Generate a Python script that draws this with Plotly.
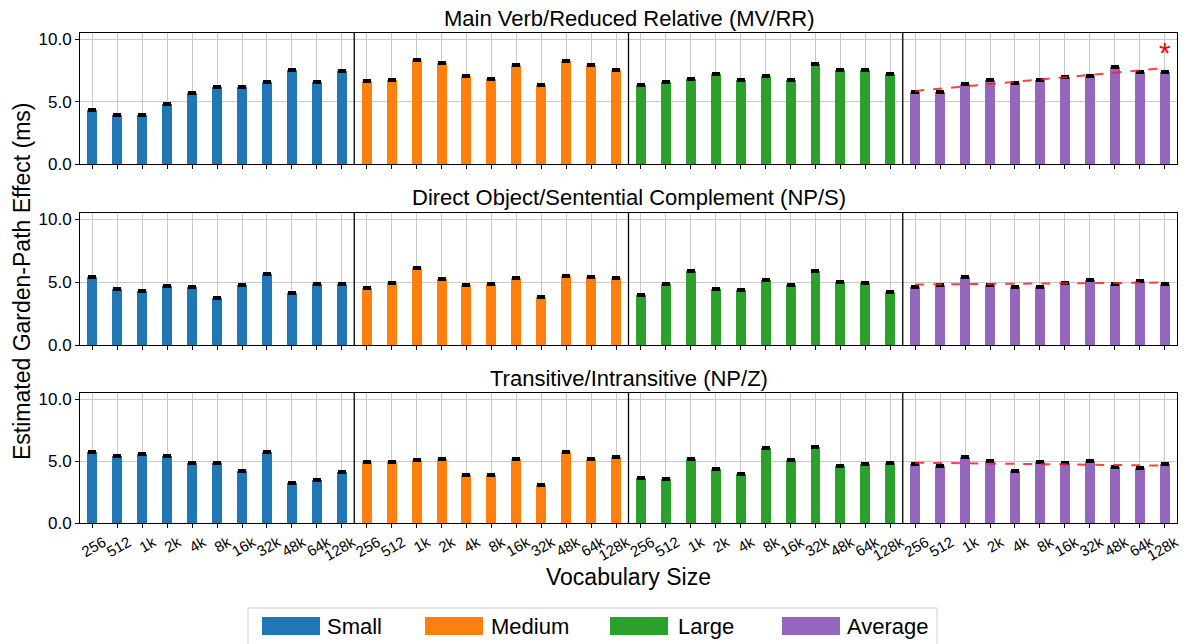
import plotly.graph_objects as go
import numpy as np

vocab = ["256", "512", "1k", "2k", "4k", "8k", "16k", "32k", "48k", "64k", "128k"]
groups = ["Small", "Medium", "Large", "Average"]
colors = ["#1f77b4", "#ff7f0e", "#2ca02c", "#9467bd"]
panel_titles = ["Main Verb/Reduced Relative (MV/RR)",
                "Direct Object/Sentential Complement (NP/S)",
                "Transitive/Intransitive (NP/Z)"]

# MV/RR
mvrr_small = [4.29, 3.89, 3.92, 4.80, 5.68, 6.21, 6.16, 6.56, 7.52, 6.61, 7.44]
mvrr_medium = [6.67, 6.75, 8.37, 8.11, 7.04, 6.85, 7.97, 6.35, 8.29, 7.92, 7.57]
mvrr_large = [6.32, 6.59, 6.85, 7.25, 6.72, 7.04, 6.72, 8.05, 7.52, 7.52, 7.20]
mvrr_average = [5.76, 5.76, 6.40, 6.72, 6.48, 6.75, 6.99, 7.04, 7.79, 7.39, 7.41]
# NP/S
nps_small = [5.38, 4.44, 4.27, 4.68, 4.60, 3.76, 4.78, 5.62, 4.17, 4.87, 4.87]
nps_medium = [4.52, 4.97, 6.10, 5.22, 4.78, 4.87, 5.35, 3.84, 5.46, 5.43, 5.35]
nps_large = [3.98, 4.87, 5.89, 4.49, 4.38, 5.16, 4.81, 5.91, 5.03, 4.92, 4.25]
nps_average = [4.65, 4.76, 5.43, 4.81, 4.60, 4.60, 4.97, 5.16, 4.89, 5.08, 4.84]
# NP/Z
npz_small = [5.70, 5.40, 5.54, 5.43, 4.81, 4.81, 4.19, 5.70, 3.20, 3.47, 4.09]
npz_medium = [4.95, 4.95, 5.05, 5.19, 3.87, 3.90, 5.19, 3.09, 5.75, 5.19, 5.30]
npz_large = [3.66, 3.52, 5.19, 4.33, 3.95, 6.02, 5.11, 6.16, 4.62, 4.73, 4.87]
npz_average = [4.78, 4.62, 5.30, 4.97, 4.22, 4.89, 4.81, 4.97, 4.54, 4.46, 4.73]

errors = [0.06] * 11
significant = [True, False, False]

panels = [
    [mvrr_small, mvrr_medium, mvrr_large, mvrr_average],
    [nps_small, nps_medium, nps_large, nps_average],
    [npz_small, npz_medium, npz_large, npz_average],
]

W, H = 1190, 644
FONT = "Liberation Sans, Arial, Helvetica, sans-serif"


def px_x(x):
    return x / W


def px_y(y):
    return 1 - y / H


x_dom = [px_x(80), px_x(1177)]
y_doms = [[px_y(164), px_y(33)], [px_y(345), px_y(213)], [px_y(523), px_y(393)]]
title_centers = [19, 198, 378]

n = len(vocab)
positions = list(range(4 * n))
ticktext = vocab * 4

fig = go.Figure()
shapes = []
annotations = []

for p, series in enumerate(panels):
    xa = "x" if p == 0 else f"x{p+1}"
    ya = "y" if p == 0 else f"y{p+1}"
    for g, vals in enumerate(series):
        xs = positions[g * n:(g + 1) * n]
        fig.add_trace(go.Bar(
            x=xs, y=vals, width=0.4, marker=dict(color=colors[g], line=dict(width=0)),
            error_y=dict(type="data", array=errors, color="black", thickness=2.5, width=4),
            xaxis=xa, yaxis=ya, showlegend=False, name=groups[g]))
    # trend line over average group
    avg = np.array(series[3])
    xs_avg = np.array(positions[3 * n:4 * n])
    slope, intercept = np.polyfit(xs_avg, avg, 1)
    fig.add_trace(go.Scatter(
        x=[xs_avg[0], xs_avg[-1]],
        y=[slope * xs_avg[0] + intercept, slope * xs_avg[-1] + intercept],
        mode="lines", line=dict(color="rgba(255,30,30,0.85)", width=2, dash="dash"),
        xaxis=xa, yaxis=ya, showlegend=False, hoverinfo="skip"))
    if significant[p]:
        annotations.append(dict(x=xs_avg[-1], y=8.9, xref=xa, yref=ya, text="*",
                                showarrow=False, font=dict(size=30, color="red", family=FONT),
                                xanchor="center", yanchor="middle"))
    # group separators
    for sep in [n - 0.5, 2 * n - 0.5, 3 * n - 0.5]:
        shapes.append(dict(type="line", xref=xa, yref=f"{ya} domain", x0=sep, x1=sep, y0=0, y1=1,
                           line=dict(color="black", width=1.3)))
    # panel title
    annotations.append(dict(x=(x_dom[0] + x_dom[1]) / 2, y=px_y(title_centers[p]),
                            xref="paper", yref="paper",
                            text=panel_titles[p], showarrow=False, xanchor="center",
                            yanchor="middle",
                            font=dict(size=22, color="black", family=FONT)))

    xaxis = dict(domain=x_dom, range=[-0.5, 4 * n - 0.5], anchor=ya,
                 tickmode="array", tickvals=positions, ticktext=ticktext,
                 showticklabels=(p == 2), tickangle=-30, ticklabelshift=11,
                 tickfont=dict(size=15, color="black", family=FONT),
                 ticks="outside", ticklen=4, tickcolor="black",
                 showgrid=True, gridcolor="#c9c9c9", gridwidth=1,
                 showline=True, mirror=True, linecolor="black", linewidth=1, zeroline=False,
                 automargin=False)
    yaxis = dict(domain=y_doms[p], range=[0, 10.5], anchor=xa,
                 tickmode="array", tickvals=[0, 5, 10], ticktext=["0.0", "5.0", "10.0"],
                 tickfont=dict(size=17, color="black", family=FONT),
                 ticks="outside", ticklen=4, tickcolor="black",
                 showgrid=True, gridcolor="#c9c9c9", gridwidth=1,
                 showline=True, mirror=True, linecolor="black", linewidth=1, zeroline=False,
                 automargin=False)
    key = "" if p == 0 else str(p + 1)
    fig.layout["xaxis" + key] = xaxis
    fig.layout["yaxis" + key] = yaxis

# axis titles
annotations.append(dict(x=px_x(22), y=px_y(281), xref="paper", yref="paper",
                        text="Estimated Garden-Path Effect (ms)", textangle=-90, showarrow=False,
                        xanchor="center", yanchor="middle",
                        font=dict(size=23, color="black", family=FONT)))
annotations.append(dict(x=(x_dom[0] + x_dom[1]) / 2, y=px_y(577), xref="paper", yref="paper",
                        text="Vocabulary Size", showarrow=False, xanchor="center", yanchor="middle",
                        font=dict(size=23, color="black", family=FONT)))

# legend box drawn manually
shapes.append(dict(type="rect", xref="paper", yref="paper", x0=px_x(248), x1=px_x(937),
                   y0=px_y(660), y1=px_y(608), line=dict(color="#cfcfcf", width=1),
                   fillcolor="white", layer="below"))
legend_patch_x = [262, 425, 610, 782]
legend_text_x = [325, 489, 676, 845]
for g in range(4):
    shapes.append(dict(type="rect", xref="paper", yref="paper",
                       x0=px_x(legend_patch_x[g]), x1=px_x(legend_patch_x[g] + 58),
                       y0=px_y(635), y1=px_y(617), fillcolor=colors[g], line=dict(width=0)))
    annotations.append(dict(x=px_x(legend_text_x[g]), y=px_y(626), xref="paper", yref="paper",
                            text=groups[g], showarrow=False, xanchor="left", yanchor="middle",
                            font=dict(size=22, color="black", family=FONT)))

fig.update_layout(width=W, height=H, margin=dict(l=0, r=0, t=0, b=0),
                  paper_bgcolor="white", plot_bgcolor="white",
                  shapes=shapes, annotations=annotations, bargap=0)

fig.write_html("out.html", config={"displayModeBar": False},
               post_script="document.body.style.margin='0px';")
